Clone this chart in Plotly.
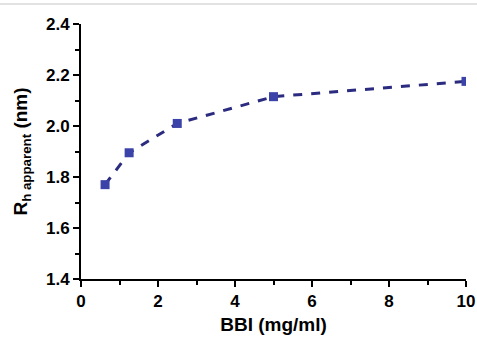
import plotly.graph_objects as go

bbi = [0.625, 1.25, 2.5, 5, 10]
rh = [1.77, 1.895, 2.01, 2.115, 2.175]

fig = go.Figure()
fig.add_trace(go.Scatter(
    x=bbi, y=rh, mode="lines+markers",
    line=dict(color="#2b2b80", width=3, dash="dash"),
    marker=dict(symbol="square", size=9, color="#3b42a8"),
    showlegend=False,
))

axis_font = dict(family="Liberation Sans, Arial", size=17, color="black", weight="bold")
title_font = dict(family="Liberation Sans, Arial", size=19, color="black", weight="bold")
fig.update_layout(
    width=477, height=338,
    margin=dict(l=81, r=11, t=24, b=59),
    plot_bgcolor="white", paper_bgcolor="white",
    xaxis=dict(
        range=[0, 10], tickvals=[0, 2, 4, 6, 8, 10],
        showline=True, linecolor="black", linewidth=2,
        ticks="outside", ticklen=6, tickwidth=2, tickcolor="black",
        minor=dict(tickvals=[1, 3, 5, 7, 9], ticks="outside", ticklen=4, tickwidth=2, tickcolor="black"),
        showgrid=False, zeroline=False, automargin=False,
        tickfont=axis_font,
        title=dict(text="BBI (mg/ml)", font=title_font, standoff=7),
    ),
    yaxis=dict(
        range=[1.4, 2.4], tickvals=[1.4, 1.6, 1.8, 2.0, 2.2, 2.4],
        ticktext=["1.4", "1.6", "1.8", "2.0", "2.2", "2.4"],
        showline=True, linecolor="black", linewidth=2,
        ticks="outside", ticklen=6, tickwidth=2, tickcolor="black",
        minor=dict(tickvals=[1.5, 1.7, 1.9, 2.1, 2.3], ticks="outside", ticklen=4, tickwidth=2, tickcolor="black"),
        showgrid=False, zeroline=False, automargin=False,
        tickfont=axis_font,
        title=dict(text="R<sub>h apparent</sub> (nm)", font=title_font, standoff=13),
    ),
    shapes=[dict(type="line", xref="paper", yref="paper", x0=-0.3, x1=1.1, y0=1.078, y1=1.078,
                 line=dict(color="#e2e2e2", width=2))],
)

fig.write_html("out.html", config={"displayModeBar": False},
               post_script="document.body.style.margin='0px';document.body.style.overflow='hidden';")
